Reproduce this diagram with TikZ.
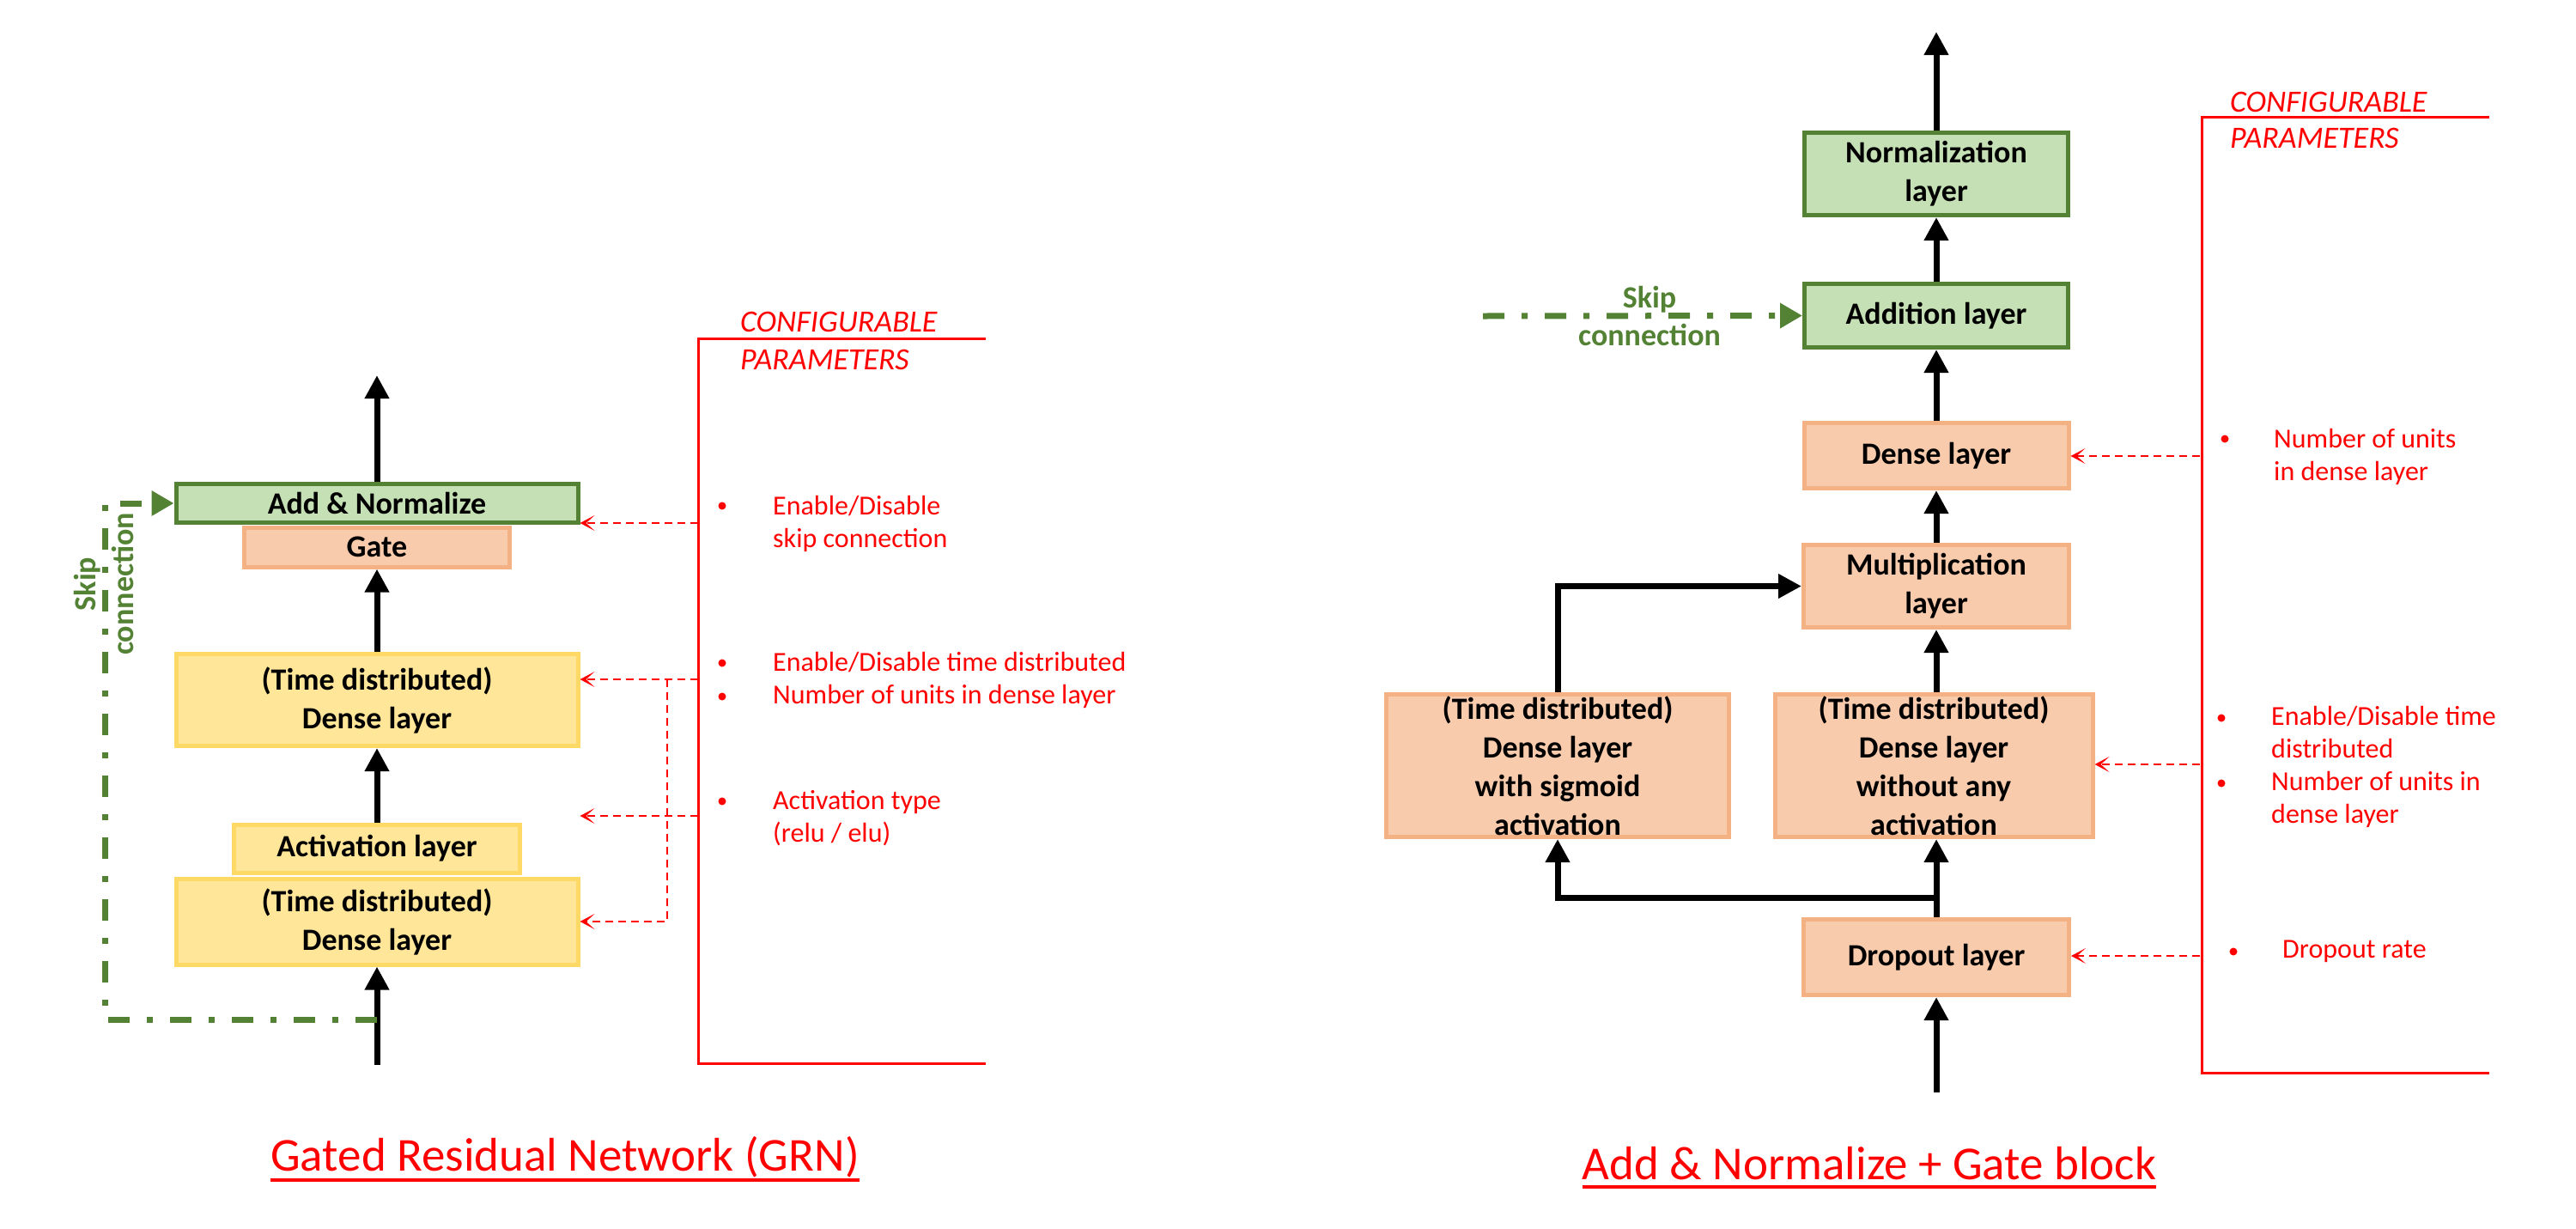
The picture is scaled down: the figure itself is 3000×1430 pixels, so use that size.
\documentclass[tikz,border=0pt]{standalone}
\usepackage{fontspec}
\setmainfont{Carlito}
\usetikzlibrary{arrows.meta}
\definecolor{gfill}{HTML}{C5E0B4}
\definecolor{gline}{HTML}{548235}
\definecolor{ofill}{HTML}{F8CBAD}
\definecolor{oline}{HTML}{F4B183}
\definecolor{yfill}{HTML}{FFE699}
\definecolor{yline}{HTML}{FFD966}
\definecolor{rd}{HTML}{FF0000}
\begin{document}
\begin{tikzpicture}[x=1pt,y=-1pt,
  lbox/.style={draw, line width=5pt, inner sep=0pt, align=center, font=\fontsize{36}{45}\selectfont\bfseries},
  gbox/.style={lbox, fill=gfill, draw=gline},
  obox/.style={lbox, fill=ofill, draw=oline},
  ybox/.style={lbox, fill=yfill, draw=yline},
  flowarrow/.style={line width=7pt, -{Triangle[length=27pt,width=27pt]}},
  skipline/.style={draw=gline, line width=7pt, dash pattern=on 25pt off 20pt on 7pt off 20pt, -{Triangle[length=26pt,width=28pt]}},
  skiplabel/.style={text=gline, align=center, inner sep=0pt, font=\fontsize{36}{44}\selectfont\bfseries},
  cfgbracket/.style={draw=rd, line width=3pt},
  param/.style={draw=rd, line width=2.5pt, dash pattern=on 9pt off 6pt, -{Stealth[length=17pt,width=18pt,inset=10pt]}},
  ptext/.style={text=rd, align=left, anchor=west, inner sep=0pt, font=\fontsize{32}{38}\selectfont},
  phead/.style={text=rd, anchor=base west, inner sep=0pt, font=\fontsize{36}{44}\selectfont\itshape},
  titletext/.style={text=rd, anchor=base, inner sep=0pt, font=\fontsize{55}{66}\selectfont},
  bulletdot/.style={fill=rd, circle, inner sep=0pt, minimum size=9pt}
]
\useasboundingbox (0,0) rectangle (3000,1430);

% ---------------- Left: GRN ----------------
\node[obox, minimum width=309pt, minimum height=46pt] (gate) at (439,637) {Gate};
\node[gbox, minimum width=468pt, minimum height=45pt] (an) at (439,586) {Add \& Normalize};
\node[ybox, minimum width=468pt, minimum height=107pt] (d1) at (439,815) {(Time distributed)\\Dense layer};
\node[ybox, minimum width=333pt, minimum height=56pt] (act) at (439,988) {Activation layer};
\node[ybox, minimum width=468pt, minimum height=100pt] (d2) at (439,1073) {(Time distributed)\\Dense layer};
\coordinate (ltop) at (439,437);
\coordinate (lin) at (439,1240);
\draw[flowarrow] (an.north) -- (ltop);
\draw[flowarrow] (d1.north) -- (gate.south);
\draw[flowarrow] (act.north) -- (d1.south);
\draw[flowarrow] (lin) -- (d2.south);

\coordinate (lsk) at (122,1187);
\draw[skipline] (lin |- lsk) -- (lsk) |- (an.west);
\node[skiplabel, rotate=90] (lsklabel) at (121,680) {Skip\\connection};

% left parameters
\draw[cfgbracket] (1148,394) -- (813,394) -- (813,1238) -- (1148,1238);
\node[phead] (lh1) at (862,386) {CONFIGURABLE};
\node[phead] (lh2) at (862,430) {PARAMETERS};
\coordinate (la1) at (813,609);
\coordinate (la2) at (813,791);
\coordinate (la3) at (813,950);
\coordinate (lv) at (777,791);
\draw[param] (la1) -- (an.east |- la1);
\draw[param] (la2) -- (d1.east |- la2);
\draw[param] (la3) -- (d1.east |- la3);
\draw[param] (lv) |- (d2.east);

\node[bulletdot] (lb1) at (841,589) {};
\node[bulletdot] (lb2) at (841,772) {};
\node[bulletdot] (lb3) at (841,811) {};
\node[bulletdot] (lb4) at (841,933) {};
\node[ptext] (lt1) at (900,610) {Enable/Disable\\skip connection};
\node[ptext] (lt2) at (900,792) {Enable/Disable time distributed\\Number of units in dense layer};
\node[ptext] (lt3) at (900,953) {Activation type\\(relu / elu)};

% ---------------- Right: Add & Normalize + Gate ----------------
\node[gbox, minimum width=307pt, minimum height=96pt] (norm) at (2255,202.5) {Normalization\\layer};
\node[gbox, minimum width=307pt, minimum height=74pt] (add) at (2255,367.5) {Addition layer};
\node[obox, minimum width=308pt, minimum height=76pt] (dense) at (2255,530.5) {Dense layer};
\node[obox, minimum width=309pt, minimum height=96pt] (mult) at (2255,682.5) {Multiplication\\layer};
\node[obox, minimum width=399pt, minimum height=166pt] (sig) at (1814,891.5) {(Time distributed)\\Dense layer\\with sigmoid\\activation};
\node[obox, minimum width=370pt, minimum height=166pt] (noact) at (2252,891.5) {(Time distributed)\\Dense layer\\without any\\activation};
\node[obox, minimum width=309pt, minimum height=88pt] (drop) at (2255,1114.5) {Dropout layer};

\coordinate (rtop) at (2255,37);
\coordinate (rin) at (2255,1272);
\coordinate (split) at (2255,1045);
\draw[flowarrow] (norm.north) -- (rtop);
\draw[flowarrow] (add.north) -- (norm.south);
\draw[flowarrow] (dense.north) -- (add.south);
\draw[flowarrow] (mult.north) -- (dense.south);
\draw[flowarrow] (noact.north -| mult.south) -- (mult.south);
\draw[flowarrow] (rin) -- (drop.south);
\draw[flowarrow] (drop.north) -- (noact.south -| drop.north);
\draw[flowarrow] (split) -| (sig.south);
\draw[flowarrow] (sig.north) |- (mult.west);

\coordinate (rsk) at (1727,368);
\draw[skipline] (rsk) -- (add.west);
\node[skiplabel] (rsklabel) at (1921,368) {Skip\\connection};

% right parameters
\draw[cfgbracket] (2899,136) -- (2564,136) -- (2564,1249) -- (2899,1249);
\node[phead] (rh1) at (2597,130) {CONFIGURABLE};
\node[phead] (rh2) at (2597,172) {PARAMETERS};
\coordinate (ra1) at (2562,531);
\coordinate (ra2) at (2562,890);
\coordinate (ra3) at (2562,1113);
\draw[param] (ra1) -- (dense.east |- ra1);
\draw[param] (ra2) -- (noact.east |- ra2);
\draw[param] (ra3) -- (drop.east |- ra3);

\node[bulletdot] (rb1) at (2591,511) {};
\node[bulletdot] (rb2) at (2587,836) {};
\node[bulletdot] (rb3) at (2587,912) {};
\node[bulletdot] (rb4) at (2601,1108) {};
\node[ptext] (rt1) at (2648,532) {Number of units\\in dense layer};
\node[ptext] (rt2) at (2645,893) {Enable/Disable time\\distributed\\Number of units in\\dense layer};
\node[ptext] (rt3) at (2658,1108) {Dropout rate};

% ---------------- Titles ----------------
\node[titletext] (t1) at (658,1363) {Gated Residual Network (GRN)};
\draw[draw=rd, line width=4pt] ([yshift=-11pt]t1.base west) -- ([yshift=-11pt]t1.base east);
\node[titletext] (t2) at (2177,1373) {Add \& Normalize + Gate block};
\draw[draw=rd, line width=4pt] ([yshift=-9pt]t2.base west) -- ([yshift=-9pt]t2.base east);
\end{tikzpicture}
\end{document}
